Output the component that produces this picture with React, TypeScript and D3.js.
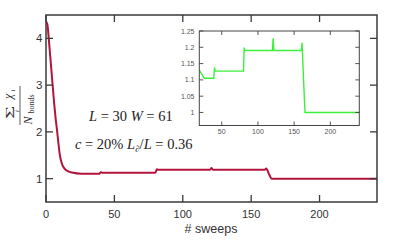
import React from "react";
import * as d3 from "d3";

// sweep index and the mean bond value
const sweeps = [0, 1, 2, 3, 4, 5, 6, 7, 8, 9, 10, 11, 12, 14, 16, 19, 26, 39, 40, 41, 80, 81, 82, 120, 121, 122, 160, 161, 163, 165, 242];
const chiValues = [4.36, 4.3, 4.0, 3.65, 3.3, 2.95, 2.6, 2.3, 2.05, 1.78, 1.53, 1.38, 1.29, 1.2, 1.16, 1.13, 1.105, 1.105, 1.138, 1.127, 1.127, 1.199, 1.19, 1.19, 1.228, 1.19, 1.19, 1.214, 1.1, 1.0, 1.0];

const mainXTicks = [0, 50, 100, 150, 200];
const mainYTicks = [1, 2, 3, 4];
const insetXTicks = [50, 100, 150, 200];
const insetYTicks = [1, 1.05, 1.1, 1.15, 1.2, 1.25];
const insetYLabels = ["1", "1.05", "1.1", "1.15", "1.2", "1.25"];

type Pt = { s: number; v: number };
const points: Pt[] = sweeps.map((s, i) => ({ s, v: chiValues[i] }));

const W = 407;
const H = 244;
const sans = "'Liberation Sans', Arial, sans-serif";
const serif = "'Liberation Serif', 'DejaVu Serif', serif";

const App = () => {
  // main plot
  const x = d3.scaleLinear().domain([0, 242]).range([46, 377]);
  const y = d3.scaleLinear().domain([0.5, 4.5]).range([202, 15]);
  const mainLine = d3.line<Pt>().x((d) => x(d.s)).y((d) => y(d.v)).curve(d3.curveMonotoneX);

  // inset
  const ix = d3.scaleLinear().domain([19, 240]).range([199.3, 359.3]);
  const iy = d3.scaleLinear().domain([0.96, 1.25]).range([125.5, 31]);
  const insetLine = d3.line<Pt>().x((d) => ix(d.s)).y((d) => iy(d.v));
  const insetPts = points.filter((d) => d.s >= 19);

  const [x0, x1] = x.range();
  const [y0, y1] = y.range();
  const [ix0, ix1] = ix.range();
  const [iy0, iy1] = iy.range();

  return (
    <svg width={W} height={H} style={{ position: "absolute", left: 0, top: 0, background: "#fff" }}>
      <defs>
        <clipPath id="mainClip">
          <rect x={x0} y={y1} width={x1 - x0} height={y0 - y1} />
        </clipPath>
        <clipPath id="insetClip">
          <rect x={ix0} y={iy1} width={ix1 - ix0} height={iy0 - iy1} />
        </clipPath>
      </defs>

      {/* main curve */}
      <path d={mainLine(points) || ""} fill="none" stroke="#b3143c" strokeWidth={2} clipPath="url(#mainClip)" />

      {/* main frame and ticks */}
      <rect x={x0} y={y1} width={x1 - x0} height={y0 - y1} fill="none" stroke="#3a3a3a" strokeWidth={1.5} />
      {mainXTicks.map((t) => (
        <g key={"mx" + t}>
          <line x1={x(t)} x2={x(t)} y1={y0} y2={y0 - 7} stroke="#3a3a3a" strokeWidth={1.3} />
          <line x1={x(t)} x2={x(t)} y1={y1} y2={y1 + 7} stroke="#3a3a3a" strokeWidth={1.3} />
          <text x={x(t)} y={218} textAnchor="middle" fontFamily={sans} fontSize={11} fill="#333">{t}</text>
        </g>
      ))}
      {mainYTicks.map((t) => (
        <g key={"my" + t}>
          <line x1={x0} x2={x0 + 7} y1={y(t)} y2={y(t)} stroke="#3a3a3a" strokeWidth={1.3} />
          <line x1={x1} x2={x1 - 7} y1={y(t)} y2={y(t)} stroke="#3a3a3a" strokeWidth={1.3} />
          <text x={42.5} y={y(t) + 4} textAnchor="end" fontFamily={sans} fontSize={11.5} fill="#333">{t}</text>
        </g>
      ))}
      <text x={211} y={233} textAnchor="middle" fontFamily={sans} fontSize={12.5} fill="#333"># sweeps</text>

      {/* y label: sum_i chi_i / N_bonds, drawn in rotated frame */}
      <g transform="translate(21,106) rotate(-90)" fontFamily={serif} fill="#333">
        <text transform="translate(-6.5,-7.5) scale(1.75,0.95)" textAnchor="middle" fontSize={13}>Σ</text>
        <text x={-5} y={-2.5} textAnchor="middle" fontSize={6.5} fontStyle="italic">i</text>
        <text x={7} y={-9} fontSize={12} fontStyle="italic">χ</text>
        <text x={14.5} y={-6.5} fontSize={6.5} fontStyle="italic">i</text>
        <line x1={-19} x2={20} y1={-1} y2={-1} stroke="#333" strokeWidth={0.8} />
        <text x={-18.5} y={10.5} fontSize={12} fontStyle="italic">N</text>
        <text x={-7.5} y={12.5} fontSize={8}>bonds</text>
      </g>

      {/* annotations */}
      <text x={89} y={121} fontFamily={serif} fontSize={14.5} fill="#222">
        <tspan fontStyle="italic">L</tspan>
        <tspan> = 30 </tspan>
        <tspan fontStyle="italic">W</tspan>
        <tspan> = 61</tspan>
      </text>
      <text x={75} y={148.5} fontFamily={serif} fontSize={14.5} fill="#222">
        <tspan fontStyle="italic">c</tspan>
        <tspan> = 20% </tspan>
        <tspan fontStyle="italic">L</tspan>
        <tspan fontStyle="italic" fontSize={9} dy={3}>∂</tspan>
        <tspan dy={-3}>/</tspan>
        <tspan fontStyle="italic">L</tspan>
        <tspan> = 0.36</tspan>
      </text>

      {/* inset */}
      <rect x={ix0} y={iy1} width={ix1 - ix0} height={iy0 - iy1} fill="#fff" />
      <path d={insetLine(insetPts) || ""} fill="none" stroke="#3cf03c" strokeWidth={1.4} clipPath="url(#insetClip)" />
      <rect x={ix0} y={iy1} width={ix1 - ix0} height={iy0 - iy1} fill="none" stroke="#444" strokeWidth={1} />
      {insetXTicks.map((t) => (
        <g key={"ix" + t}>
          <line x1={ix(t)} x2={ix(t)} y1={iy0} y2={iy0 - 4} stroke="#444" strokeWidth={0.9} />
          <line x1={ix(t)} x2={ix(t)} y1={iy1} y2={iy1 + 4} stroke="#444" strokeWidth={0.9} />
          <text x={ix(t)} y={134} textAnchor="middle" fontFamily={sans} fontSize={7} fill="#555">{t}</text>
        </g>
      ))}
      {insetYTicks.map((t, i) => (
        <g key={"iy" + t}>
          <line x1={ix0} x2={ix0 + 4} y1={iy(t)} y2={iy(t)} stroke="#444" strokeWidth={0.9} />
          <line x1={ix1} x2={ix1 - 4} y1={iy(t)} y2={iy(t)} stroke="#444" strokeWidth={0.9} />
          <text x={194.5} y={iy(t) + 2.5} textAnchor="end" fontFamily={sans} fontSize={7} fill="#555">{insetYLabels[i]}</text>
        </g>
      ))}
    </svg>
  );
};

export default App;
